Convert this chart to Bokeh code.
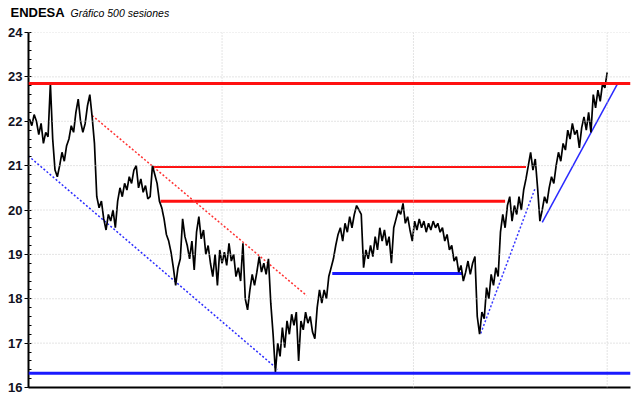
from bokeh.plotting import figure
from bokeh.embed import file_html
from bokeh.resources import INLINE
from bokeh.layouts import column
from bokeh.models import Range1d, SingleIntervalTicker, FixedTicker, Span, Label, LinearAxis, Grid

# ---------------- data ----------------
title_main = "ENDESA"
title_sub = "Gráfico 500 sesiones"

# closes, one value every 2 sessions (sessions 0, 2, ..., 498)
close = [
    22.05, 21.9, 22.15, 22.0, 21.7, 21.95, 21.5, 21.75, 21.65, 22.85,
    21.6, 20.9, 20.75, 21.0, 21.3, 21.1, 21.45, 21.6, 21.9, 21.75,
    22.2, 22.5, 22.0, 21.75, 21.95, 22.35, 22.6, 22.1, 21.5, 20.3,
    20.05, 20.2, 19.8, 19.55, 19.9, 19.75, 20.0, 19.6, 20.2, 20.5,
    20.3, 20.6, 20.45, 20.75, 20.6, 20.9, 21.0, 20.5, 20.7, 20.4,
    20.55, 20.25, 20.3, 21.0, 20.8, 20.6, 20.2, 20.05, 19.8, 19.45,
    19.3, 19.05, 18.7, 18.3, 18.7, 18.9, 19.8, 19.4, 19.2, 18.9,
    19.3, 18.65, 19.5, 19.85, 19.35, 19.55, 19.0, 19.2, 18.8, 18.5,
    19.0, 18.3, 19.1, 18.8, 19.05, 18.75, 19.25, 18.85, 19.0, 18.5,
    18.7, 18.4, 19.25, 18.0, 17.75, 18.2, 18.55, 18.3, 18.6, 18.95,
    18.6, 18.8, 18.55, 18.9, 17.9, 17.2, 16.35, 17.0, 16.7, 17.35,
    16.9, 17.5, 17.2, 17.65, 17.4, 17.7, 16.6, 17.5, 17.3, 17.7,
    17.45, 17.6, 17.25, 17.1, 17.8, 18.2, 17.9, 18.2, 18.0, 18.5,
    18.7, 18.9, 19.2, 19.45, 19.6, 19.3, 19.7, 19.5, 19.85, 19.6,
    19.9, 20.1, 20.0, 19.9, 18.7, 19.1, 18.9, 19.2, 18.95, 19.4,
    19.1, 19.6, 19.3, 19.55, 19.2, 19.4, 18.8, 19.6, 19.8, 20.0,
    19.9, 20.15, 19.7, 19.85, 19.55, 19.3, 19.75, 19.55, 19.8, 19.6,
    19.75, 19.5, 19.7, 19.55, 19.75, 19.6, 19.7, 19.5, 19.6, 19.3,
    19.45, 19.1, 19.2, 18.85, 18.95, 18.6, 18.75, 18.4, 18.6, 18.85,
    18.55, 18.8, 18.95, 17.6, 17.2, 17.7, 17.55, 18.25, 18.0, 18.55,
    18.3, 18.7, 18.5, 19.5, 19.9, 19.6, 20.1, 20.3, 19.75, 20.1,
    19.9, 20.3, 20.0, 20.45, 20.7, 21.0, 21.3, 20.9, 21.15, 20.5,
    19.75, 20.0, 20.3, 20.15, 20.5, 20.75, 20.6, 21.0, 21.3, 21.1,
    21.5, 21.35, 21.8, 21.6, 21.95, 21.7, 21.8, 21.4, 21.85, 22.1,
    21.8, 22.2, 21.75, 22.6, 22.3, 22.7, 22.45, 22.85, 22.75, 23.1,
]
sessions = [2 * i for i in range(len(close))]

# horizontal support / resistance levels (full width)
full_levels = [22.85, 16.32]
full_colors = ["#ff1010", "#1a1aff"]

# partial horizontal levels
part_x0 = [106, 113, 261]
part_x1 = [428, 410, 373]
part_y = [20.97, 20.2, 18.57]
part_colors = ["#ff1010", "#ff1010", "#1a1aff"]
part_widths = [2, 3, 3]

# trend lines
trend_x0 = [-1, 54, 389, 442]
trend_y0 = [21.22, 22.13, 17.22, 19.72]
trend_x1 = [214, 239, 436, 507]
trend_y1 = [16.41, 18.07, 20.5, 22.85]
trend_colors = ["#2a2aff", "#ff3030", "#3a3aff", "#2a2aff"]
trend_dash = ["2 2", "2 2", "2 2", "solid"]

vgrid_sessions = [166, 331, 498]
y_min, y_max = 16, 24

# ---------------- title strip ----------------
t = figure(width=640, height=24, output_backend="svg", toolbar_location=None,
           x_range=Range1d(0, 640), y_range=Range1d(0, 24),
           min_border=0, x_axis_location=None, y_axis_location=None)
t.frame_align = False
t.outline_line_color = None
for g in t.select(type=Grid):
    g.visible = False
t.add_layout(Label(x=10, y=12, text=title_main, text_font="Liberation Sans",
                   text_font_style="bold", text_font_size="13px",
                   text_color="black", text_baseline="middle"))
t.add_layout(Label(x=70, y=12, text=title_sub, text_font="Liberation Sans",
                   text_font_style="italic", text_font_size="10.5px",
                   text_color="black", text_baseline="middle"))

# ---------------- main figure ----------------
p = figure(width=640, height=374, output_backend="svg", toolbar_location=None,
           x_range=Range1d(-0.86, 518.1), y_range=Range1d(y_min, y_max),
           min_border_left=28, min_border_right=10, min_border_top=8,
           min_border_bottom=11, x_axis_location=None, y_axis_location=None)
p.frame_align = False
p.outline_line_color = None
p.background_fill_color = "white"
p.border_fill_color = "white"
for g in p.select(type=Grid):
    g.visible = False

yaxis = LinearAxis(ticker=SingleIntervalTicker(interval=1, num_minor_ticks=5))
yaxis.axis_line_color = "black"
yaxis.axis_line_width = 2
yaxis.major_tick_out = 4
yaxis.major_tick_in = 0
yaxis.minor_tick_in = 3
yaxis.minor_tick_out = 0
yaxis.major_tick_line_color = "black"
yaxis.minor_tick_line_color = "black"
yaxis.major_label_text_font = "Liberation Sans"
yaxis.major_label_text_font_style = "bold"
yaxis.major_label_text_font_size = "13px"
yaxis.major_label_text_color = "#111122"
yaxis.major_label_standoff = 2
p.add_layout(yaxis, "left")

xaxis = LinearAxis(ticker=FixedTicker(ticks=[]))
xaxis.axis_line_color = "black"
xaxis.axis_line_width = 2
xaxis.major_tick_line_color = None
xaxis.minor_tick_line_color = None
xaxis.major_label_text_font_size = "0px"
p.add_layout(xaxis, "below")

# grids
for lvl in range(y_min + 1, y_max + 1):
    p.add_layout(Span(location=lvl, dimension="width", line_color="#c8c8c8",
                      line_dash="1 2", line_width=1))
for s in vgrid_sessions:
    p.add_layout(Span(location=s, dimension="height", line_color="#c8c8c8",
                      line_dash="1 2", line_width=1))

# full-width levels
for lvl, col in zip(full_levels, full_colors):
    p.add_layout(Span(location=lvl, dimension="width", line_color=col,
                      line_width=3))

# partial levels
p.segment(x0=part_x0, y0=part_y, x1=part_x1, y1=part_y,
          line_color=part_colors, line_width=part_widths)

# trend lines
for x0, y0, x1, y1, c, d in zip(trend_x0, trend_y0, trend_x1, trend_y1,
                                trend_colors, trend_dash):
    p.line([x0, x1], [y0, y1], line_color=c, line_width=1.5, line_dash=d)

# price
p.line(sessions, close, line_color="black", line_width=1.7)

layout = column(t, p, spacing=0)
open("out.html", "w").write(file_html(layout, INLINE))
